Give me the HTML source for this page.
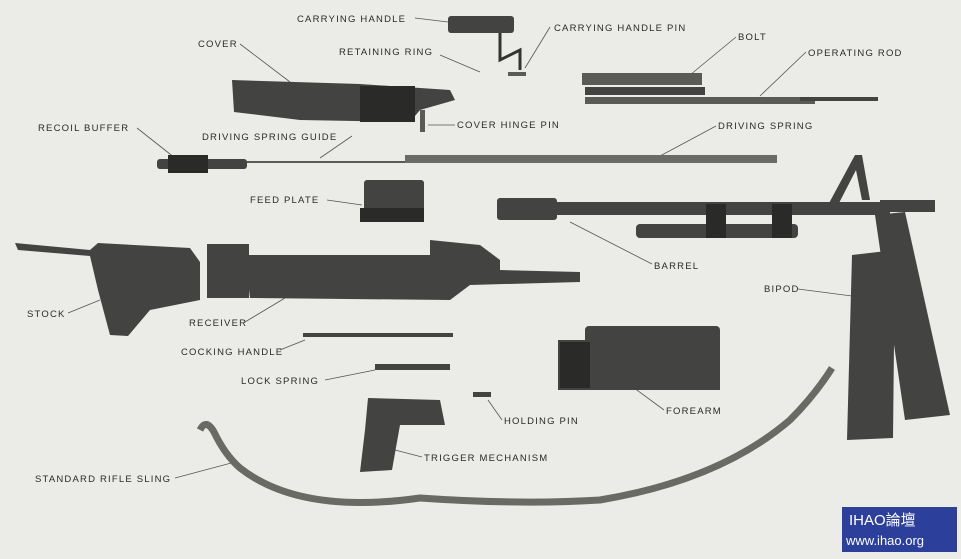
<!DOCTYPE html>
<html><head><meta charset="utf-8">
<style>
html,body{margin:0;padding:0;background:#ebebe8;}
svg{display:block}
text{font-family:"Liberation Sans",sans-serif;font-size:9.5px;letter-spacing:1.2px;fill:#2a2a2a}
.l{stroke:#555;stroke-width:0.8;fill:none}
.p{fill:#434341}
.m{fill:#5a5a57}
.d{fill:#2a2a29}
</style></head><body>
<svg width="961" height="559" viewBox="0 0 961 559" xmlns="http://www.w3.org/2000/svg">
<rect width="961" height="559" fill="#ebebe8"/>
<text x="297" y="22">CARRYING HANDLE</text><path class="l" d="M415,18 L448,22"/>
<text x="554" y="31">CARRYING HANDLE PIN</text><path class="l" d="M550,27 L525,68"/>
<text x="198" y="47">COVER</text><path class="l" d="M240,44 L290,82"/>
<text x="339" y="55">RETAINING RING</text><path class="l" d="M440,55 L480,72"/>
<text x="738" y="40">BOLT</text><path class="l" d="M736,37 L690,75"/>
<text x="808" y="56">OPERATING ROD</text><path class="l" d="M806,52 L760,96"/>
<text x="38" y="131">RECOIL BUFFER</text><path class="l" d="M137,128 L175,158"/>
<text x="202" y="140">DRIVING SPRING GUIDE</text><path class="l" d="M352,136 L320,158"/>
<text x="457" y="128">COVER HINGE PIN</text><path class="l" d="M455,125 L428,125"/>
<text x="718" y="129">DRIVING SPRING</text><path class="l" d="M716,126 L660,156"/>
<text x="250" y="203">FEED PLATE</text><path class="l" d="M327,200 L362,205"/>
<text x="654" y="269">BARREL</text><path class="l" d="M652,264 L570,222"/>
<text x="764" y="292">BIPOD</text><path class="l" d="M798,289 L852,296"/>
<text x="27" y="317">STOCK</text><path class="l" d="M68,313 L100,300"/>
<text x="189" y="326">RECEIVER</text><path class="l" d="M245,322 L285,298"/>
<text x="181" y="355">COCKING HANDLE</text><path class="l" d="M280,350 L305,340"/>
<text x="241" y="384">LOCK SPRING</text><path class="l" d="M325,380 L375,370"/>
<text x="504" y="424">HOLDING PIN</text><path class="l" d="M502,420 L488,400"/>
<text x="666" y="414">FOREARM</text><path class="l" d="M664,410 L630,385"/>
<text x="424" y="461">TRIGGER MECHANISM</text><path class="l" d="M422,457 L395,450"/>
<text x="35" y="482">STANDARD RIFLE SLING</text><path class="l" d="M175,478 L235,462"/>
<rect class="p" x="448" y="16" width="66" height="17" rx="3"/>
<path class="l" d="M500,33 L500,60 L520,50 L520,70" style="stroke:#333;stroke-width:3"/>
<rect class="m" x="508" y="72" width="18" height="4"/>
<path class="p" d="M232,80 L360,84 L450,90 L455,100 L420,110 L410,122 L300,120 L234,112 Z"/>
<rect class="d" x="360" y="86" width="55" height="36"/>
<rect class="m" x="420" y="110" width="5" height="22"/>
<rect class="m" x="582" y="73" width="120" height="12"/>
<rect class="p" x="585" y="87" width="120" height="8"/>
<rect class="m" x="585" y="97" width="230" height="7"/>
<rect class="p" x="800" y="97" width="78" height="4"/>
<rect class="p" x="157" y="159" width="90" height="10" rx="3"/>
<rect class="d" x="168" y="155" width="40" height="18"/>
<rect class="m" x="247" y="161" width="160" height="2"/>
<rect x="405" y="155" width="372" height="8" fill="#6a6a66"/>
<rect class="p" x="364" y="180" width="60" height="32" rx="3"/>
<rect class="d" x="360" y="208" width="64" height="14"/>
<rect class="p" x="497" y="198" width="60" height="22" rx="3"/>
<rect class="p" x="550" y="202" width="340" height="13"/>
<rect class="p" x="636" y="224" width="162" height="14" rx="4"/>
<rect class="d" x="706" y="204" width="20" height="34"/>
<rect class="d" x="772" y="204" width="20" height="34"/>
<rect class="p" x="880" y="200" width="55" height="12"/>
<path class="p" d="M828,205 L855,155 L862,155 L870,200 L862,200 L856,170 L838,205 Z"/>
<path class="p" d="M852,255 L895,250 L893,438 L847,440 Z"/>
<path class="p" d="M875,215 L905,212 L950,415 L905,420 Z"/>
<path class="p" d="M15,243 L90,250 L98,243 L190,248 L200,262 L200,300 L150,310 L128,336 L110,335 L98,290 L90,256 L18,250 Z"/>
<rect class="p" x="207" y="244" width="42" height="54"/>
<path class="p" d="M245,255 L430,255 L430,240 L480,245 L500,260 L500,270 L580,272 L580,282 L470,285 L450,300 L250,298 Z"/>
<rect class="p" x="303" y="333" width="150" height="4"/>
<rect class="p" x="375" y="364" width="75" height="6"/>
<rect class="p" x="473" y="392" width="18" height="5"/>
<path class="p" d="M368,398 L440,400 L445,425 L400,425 L392,470 L360,472 L365,430 Z"/>
<rect class="p" x="585" y="326" width="135" height="38" rx="4"/>
<rect class="p" x="558" y="340" width="162" height="50"/>
<rect class="d" x="560" y="342" width="30" height="46"/>
<path d="M200,430 Q206,418 214,432 Q225,455 240,468 Q300,515 420,498 Q520,505 600,500 Q720,480 790,420 Q815,395 832,368" stroke="#6a6a64" stroke-width="7" fill="none"/>
<rect x="842" y="507" width="115" height="45" fill="#2b3f9b"/>
<text x="849" y="525" style="fill:#fff;font-size:15px;letter-spacing:0;font-family:'Liberation Sans','Noto Sans CJK SC',sans-serif">IHAO論壇</text>
<text x="846" y="545" style="fill:#fff;font-size:13px;letter-spacing:0">www.ihao.org</text>
</svg>
</body></html>
